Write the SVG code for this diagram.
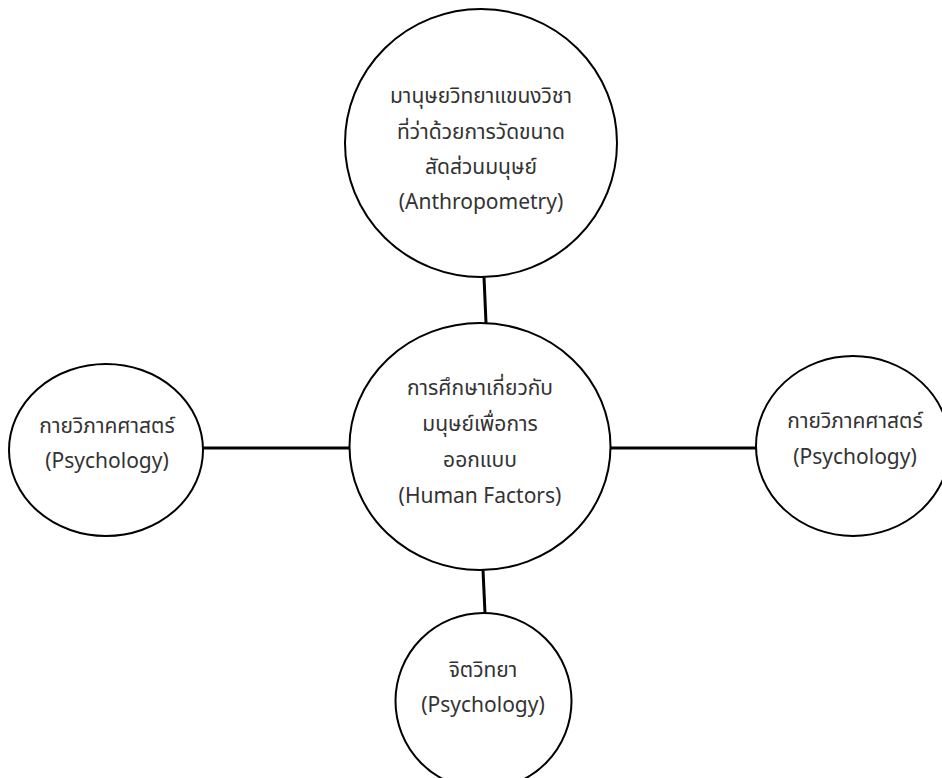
<svg xmlns="http://www.w3.org/2000/svg" width="942" height="778" viewBox="0 0 942 778">
<style>
.node{fill:#fff;stroke:#000;stroke-width:2}
.conn{stroke:#000;stroke-width:3;fill:none}
text{font-family:"Noto Sans Thai","Noto Sans","Open Sans","DejaVu Sans",sans-serif;font-size:21px;fill:#333;text-anchor:middle}
</style>
<rect width="942" height="778" fill="#fff"/>
<g id="connectors">
<line class="conn" x1="484" y1="277" x2="486" y2="323"/>
<line class="conn" x1="203" y1="448" x2="349" y2="448"/>
<line class="conn" x1="610" y1="448" x2="756" y2="448"/>
<line class="conn" x1="483" y1="570" x2="485" y2="613"/>
</g>
<g id="top">
<ellipse class="node" cx="481" cy="143" rx="136" ry="134"/>
<text x="481" y="103">มานุษยวิทยาแขนงวิชา</text>
<text x="481" y="139">ที่ว่าด้วยการวัดขนาด</text>
<text x="481" y="174">สัดส่วนมนุษย์</text>
<text x="481" y="209">(Anthropometry)</text>
</g>
<g id="center">
<ellipse class="node" cx="480" cy="446.5" rx="130.5" ry="123.5"/>
<text x="480" y="395">การศึกษาเกี่ยวกับ</text>
<text x="480" y="431">มนุษย์เพื่อการ</text>
<text x="480" y="467">ออกแบบ</text>
<text x="480" y="503">(Human Factors)</text>
</g>
<g id="left">
<ellipse class="node" cx="106" cy="450" rx="97" ry="86"/>
<text x="107" y="433">กายวิภาคศาสตร์</text>
<text x="107" y="468">(Psychology)</text>
</g>
<g id="right">
<ellipse class="node" cx="853" cy="446" rx="97" ry="90"/>
<text x="855" y="428">กายวิภาคศาสตร์</text>
<text x="855" y="464">(Psychology)</text>
</g>
<g id="bottom">
<ellipse class="node" cx="483.5" cy="701" rx="88" ry="88"/>
<text x="483" y="677">จิตวิทยา</text>
<text x="483" y="712">(Psychology)</text>
</g>
</svg>
